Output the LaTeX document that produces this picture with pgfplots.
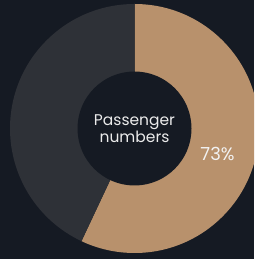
\documentclass[border=0pt]{standalone}
\usepackage{pgfplots}
\pgfplotsset{compat=1.18}
\usepackage{pgfplotstable}
\usepackage{fontspec}
\setmainfont{Poppins}
\definecolor{bgc}{HTML}{151A23}
\definecolor{tanc}{HTML}{B8916C}
\definecolor{grayc}{HTML}{2E3137}
\pgfplotstableread{
segment value
passengers 57
other 43
}\pietable
\begin{document}
\begin{tikzpicture}
\pgfplotstablegetelem{0}{value}\of\pietable \let\va\pgfplotsretval
\pgfplotstablegetelem{1}{value}\of\pietable \let\vb\pgfplotsretval
\pgfmathsetmacro{\tot}{\va+\vb}
\pgfmathsetmacro{\frac}{\va/\tot}
\pgfmathsetmacro{\angA}{90-360*\frac}
\begin{axis}[
  width=254pt, height=259pt, scale only axis,
  xmin=-134.5, xmax=119.5, ymin=-130.5, ymax=128.5,
  hide axis, clip=true,
]
\fill[bgc] (axis cs:-134.5,-130.5) rectangle (axis cs:119.5,128.5);
\fill[tanc] (axis cs:0,0) -- (axis cs:0,124.5) arc[start angle=90, end angle=\angA, radius=124.5pt] -- cycle;
\fill[grayc] (axis cs:0,0) -- (axis cs:0,124.5) arc[start angle=90, end angle=\angA+360, radius=124.5pt] -- cycle;
\fill[bgc] (axis cs:0,0) circle[radius=57pt];
\node[text=white!92!black, align=center, font=\fontsize{15.5}{14.5}\selectfont] at (axis cs:0,0) {Passenger\\numbers};
\node[text=white!95!black, font=\fontsize{18}{20}\selectfont] at (axis cs:83,-25.5) {73\%};
\end{axis}
\pgfresetboundingbox
\useasboundingbox (current axis.south west) rectangle (current axis.north east);
\end{tikzpicture}
\end{document}
